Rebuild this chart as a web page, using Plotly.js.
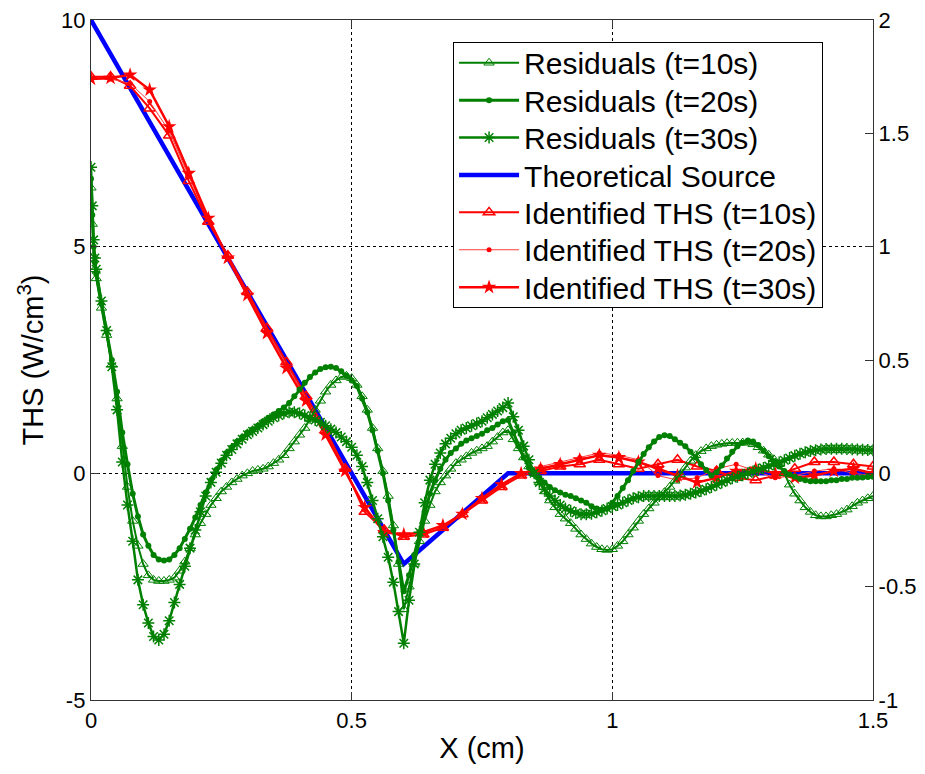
<!DOCTYPE html>
<html>
<head>
<meta charset="utf-8">
<script src="https://cdn.plot.ly/plotly-3.0.1.min.js"></script>
<style>html,body{margin:0;padding:0;background:#fff;}#chart{width:925px;height:774px;}</style>
</head>
<body>
<div id="chart"></div>
<script>
// Residual sample positions (cm)
var resX = [0,0.0025,0.005,0.0075,0.01,0.02,0.03,0.04,0.05,0.06,0.07,0.08,0.09,0.10,
0.11,0.12,0.13,0.14,0.15,0.16,0.17,0.18,0.19,0.20,0.21,0.22,0.23,0.24,0.25,0.26,0.27,0.28,0.29,0.30,
0.31,0.32,0.33,0.34,0.35,0.36,0.37,0.38,0.39,0.40,0.41,0.42,0.43,0.44,0.45,0.46,0.47,0.48,0.49,0.50,
0.51,0.52,0.53,0.54,0.55,0.56,0.57,0.58,0.59,0.60,0.61,0.62,0.63,0.64,0.65,0.66,0.67,0.68,0.69,0.70,
0.71,0.72,0.73,0.74,0.75,0.76,0.77,0.78,0.79,0.80,0.81,0.82,0.83,0.84,0.85,0.86,0.87,0.88,0.89,0.90,
0.91,0.92,0.93,0.94,0.95,0.96,0.97,0.98,0.99,1.00,1.01,1.02,1.03,1.04,1.05,1.06,1.07,1.08,1.09,1.10,
1.11,1.12,1.13,1.14,1.15,1.16,1.17,1.18,1.19,1.20,1.21,1.22,1.23,1.24,1.25,1.26,1.27,1.28,1.29,1.30,
1.31,1.32,1.33,1.34,1.35,1.36,1.37,1.38,1.39,1.40,1.41,1.42,1.43,1.44,1.45,1.46,1.47,1.48,1.49,1.50];

// Residuals t=10s (right axis)
var res10 = [1.26,1.10,0.96,0.90,0.86,0.73,0.61,0.48,0.33,0.12,-0.06,-0.21,-0.32,-0.40,
-0.45,-0.47,-0.475,-0.475,-0.47,-0.46,-0.43,-0.39,-0.33,-0.27,-0.22,-0.18,-0.14,-0.11,-0.08,-0.06,-0.04,-0.025,-0.01,0.0,
0.01,0.015,0.02,0.03,0.045,0.06,0.08,0.11,0.14,0.17,0.20,0.24,0.28,0.32,0.36,0.39,0.41,0.425,0.43,0.42,
0.39,0.34,0.28,0.20,0.11,0.01,-0.10,-0.23,-0.40,-0.60,-0.50,-0.40,-0.30,-0.21,-0.14,-0.08,-0.04,-0.01,0.02,0.045,
0.06,0.075,0.09,0.10,0.11,0.12,0.14,0.16,0.18,0.19,0.15,0.11,0.07,0.03,0.0,-0.04,-0.08,-0.12,-0.15,-0.18,
-0.20,-0.22,-0.245,-0.27,-0.29,-0.31,-0.325,-0.335,-0.338,-0.335,-0.32,-0.30,-0.27,-0.24,-0.21,-0.18,-0.155,-0.13,-0.105,-0.083,
-0.06,-0.033,-0.005,0.025,0.055,0.08,0.098,0.11,0.12,0.126,0.13,0.133,0.134,0.135,0.136,0.135,0.128,0.115,0.10,0.082,
0.062,0.04,0.0,-0.05,-0.09,-0.12,-0.15,-0.17,-0.185,-0.19,-0.19,-0.185,-0.18,-0.17,-0.16,-0.145,-0.13,-0.12,-0.11,-0.10];

// Residuals t=20s (right axis)
var res20 = [1.30,1.14,1.00,0.93,0.88,0.75,0.63,0.50,0.36,0.18,0.04,-0.09,-0.19,-0.27,
-0.32,-0.36,-0.38,-0.385,-0.38,-0.36,-0.33,-0.29,-0.245,-0.195,-0.14,-0.085,-0.03,0.015,0.055,0.09,0.115,0.14,0.16,0.18,
0.195,0.21,0.23,0.245,0.26,0.275,0.29,0.31,0.34,0.37,0.40,0.425,0.445,0.46,0.468,0.47,0.465,0.45,0.43,0.41,
0.385,0.33,0.27,0.19,0.10,0.0,-0.12,-0.25,-0.39,-0.52,-0.45,-0.36,-0.26,-0.17,-0.09,-0.03,0.02,0.06,0.09,0.11,
0.13,0.145,0.155,0.165,0.175,0.19,0.20,0.215,0.23,0.235,0.18,0.12,0.07,0.025,-0.005,-0.02,-0.04,-0.06,-0.075,-0.085,
-0.095,-0.10,-0.11,-0.12,-0.13,-0.145,-0.155,-0.16,-0.155,-0.13,-0.10,-0.065,-0.03,0.01,0.05,0.085,0.115,0.14,0.16,0.168,
0.165,0.15,0.135,0.12,0.095,0.07,0.04,0.015,-0.01,0.005,0.035,0.065,0.095,0.12,0.135,0.145,0.14,0.125,0.10,0.075,
0.05,0.03,0.01,-0.005,-0.015,-0.025,-0.03,-0.035,-0.035,-0.035,-0.035,-0.03,-0.03,-0.025,-0.025,-0.02,-0.02,-0.018,-0.016,-0.015];

// Residuals t=30s (right axis)
var res30 = [1.35,1.18,1.03,0.95,0.90,0.76,0.63,0.47,0.28,0.05,-0.14,-0.30,-0.47,-0.58,
-0.66,-0.72,-0.735,-0.71,-0.65,-0.57,-0.49,-0.41,-0.33,-0.25,-0.17,-0.10,-0.04,0.005,0.045,0.08,0.105,0.13,0.15,0.17,
0.185,0.20,0.215,0.23,0.245,0.255,0.265,0.27,0.27,0.265,0.255,0.245,0.235,0.225,0.21,0.195,0.18,0.16,0.14,0.115,
0.08,0.03,-0.04,-0.12,-0.20,-0.28,-0.37,-0.48,-0.61,-0.75,-0.56,-0.40,-0.26,-0.13,-0.03,0.04,0.09,0.13,0.155,0.175,
0.19,0.20,0.21,0.22,0.23,0.245,0.26,0.275,0.29,0.31,0.25,0.19,0.12,0.06,0.0,-0.04,-0.07,-0.10,-0.12,-0.14,
-0.155,-0.165,-0.175,-0.18,-0.18,-0.178,-0.172,-0.165,-0.155,-0.147,-0.14,-0.13,-0.12,-0.11,-0.105,-0.10,-0.10,-0.10,-0.10,-0.10,
-0.10,-0.10,-0.098,-0.095,-0.09,-0.085,-0.078,-0.07,-0.06,-0.05,-0.04,-0.03,-0.022,-0.015,-0.008,0.0,0.008,0.016,0.024,0.032,
0.04,0.048,0.058,0.068,0.078,0.086,0.093,0.098,0.102,0.105,0.107,0.108,0.108,0.108,0.107,0.106,0.105,0.104,0.103,0.102];

// Theoretical source (left axis)
var theoX = [0, 0.6, 0.8, 1.5];
var theoY = [10, -2, 0, 0];

// Identified THS sample positions and values (left axis)
var idX = [0,0.0375,0.075,0.1125,0.15,0.1875,0.225,0.2625,0.3,0.3375,0.375,0.4125,0.45,0.4875,0.525,0.5625,0.6,0.6375,0.675,0.7125,
0.75,0.7875,0.825,0.8625,0.9,0.9375,0.975,1.0125,1.05,1.0875,1.125,1.1625,1.2,1.2375,1.275,1.3125,1.35,1.3875,1.425,1.4625,1.5];
var id10 = [8.75,8.75,8.55,8.05,7.45,6.45,5.55,4.8,4.0,3.2,2.45,1.7,0.95,0.1,-0.85,-1.25,-1.4,-1.35,-1.2,-0.9,
-0.6,-0.3,-0.05,0.05,0.15,0.2,0.3,0.2,0.1,0.2,0.3,0.15,0.05,-0.1,-0.15,-0.05,0.1,0.25,0.25,0.2,0.15];
var id20 = [8.7,8.7,8.6,8.2,7.55,6.55,5.6,4.75,3.95,3.15,2.4,1.65,0.9,0.1,-0.8,-1.3,-1.35,-1.3,-1.15,-0.88,
-0.55,-0.27,0.0,0.15,0.25,0.35,0.45,0.4,0.3,-0.05,-0.15,-0.1,0.1,0.2,0.05,-0.1,-0.05,0.05,0.1,0.0,-0.05];
var id30 = [8.7,8.72,8.79,8.46,7.65,6.62,5.63,4.75,3.93,3.09,2.32,1.6,0.85,0.05,-0.75,-1.3,-1.35,-1.3,-1.15,-0.9,
-0.55,-0.25,0.0,0.1,0.2,0.3,0.4,0.35,0.25,0.1,-0.05,-0.2,-0.1,0.05,0.1,0.0,-0.1,-0.05,0.05,0.1,0.0];

var seriesNames = ['Residuals (t=10s)','Residuals (t=20s)','Residuals (t=30s)','Theoretical Source',
  'Identified THS (t=10s)','Identified THS (t=20s)','Identified THS (t=30s)'];

var GREEN = 'rgb(0,128,0)';
var RED = 'rgb(255,0,0)';
var FONT = 'Arial, "Liberation Sans", sans-serif';

var traces = [
  {x: resX, y: res10, name: seriesNames[0], yaxis: 'y2', mode: 'lines+markers',
   line: {color: GREEN, width: 2},
   marker: {symbol: 'triangle-up-open', size: 9, color: GREEN, line: {color: GREEN, width: 1}}},
  {x: resX, y: res20, name: seriesNames[1], yaxis: 'y2', mode: 'lines+markers',
   line: {color: GREEN, width: 3},
   marker: {symbol: 'circle', size: 6, color: GREEN}},
  {x: resX, y: res30, name: seriesNames[2], yaxis: 'y2', mode: 'lines+markers',
   line: {color: GREEN, width: 2.5},
   marker: {symbol: 'asterisk-open', size: 10, color: GREEN, line: {color: GREEN, width: 1.5}}},
  {x: theoX, y: theoY, name: seriesNames[3], yaxis: 'y', mode: 'lines',
   line: {color: 'rgb(0,0,255)', width: 4.5}},
  {x: idX, y: id10, name: seriesNames[4], yaxis: 'y', mode: 'lines+markers',
   line: {color: RED, width: 2},
   marker: {symbol: 'triangle-up-open', size: 10, color: RED, line: {color: RED, width: 1.5}}},
  {x: idX, y: id20, name: seriesNames[5], yaxis: 'y', mode: 'lines+markers',
   line: {color: 'rgb(255,60,60)', width: 1},
   marker: {symbol: 'circle', size: 5, color: RED}},
  {x: idX, y: id30, name: seriesNames[6], yaxis: 'y', mode: 'lines+markers',
   line: {color: RED, width: 2.5},
   marker: {symbol: 'star', size: 11, color: RED}}
];

var axisCommon = {
  showline: true, linecolor: '#333', linewidth: 1.2,
  ticks: 'inside', ticklen: 8, tickcolor: '#333', tickwidth: 1,
  tickfont: {family: FONT, size: 22, color: '#000'},
  zeroline: false
};

var layout = {
  width: 925, height: 774,
  margin: {l: 91, r: 52, t: 20, b: 74, pad: 0},
  paper_bgcolor: '#fff', plot_bgcolor: '#fff',
  font: {family: FONT, color: '#000'},
  showlegend: true,
  legend: {x: 0.463, y: 0.968, xanchor: 'left', yanchor: 'top',
    bgcolor: '#fff', bordercolor: '#000', borderwidth: 1,
    font: {family: FONT, size: 30, color: '#000'}, itemwidth: 60, tracegroupgap: 0},
  xaxis: Object.assign({}, axisCommon, {
    range: [0, 1.5], tickvals: [0, 0.5, 1, 1.5], ticktext: ['0', '0.5', '1', '1.5'],
    mirror: 'ticks', showgrid: true, gridcolor: '#000', gridwidth: 1, griddash: '3px,3px',
    title: {text: 'X (cm)', font: {family: FONT, size: 29, color: '#000'}, standoff: 6}
  }),
  yaxis: Object.assign({}, axisCommon, {
    range: [-5, 10], tickvals: [-5, 0, 5, 10], ticktext: ['-5', '0', '5', '10'],
    showgrid: true, gridcolor: '#000', gridwidth: 1, griddash: '3px,3px',
    title: {text: 'THS (W/cm<sup>3</sup>)', font: {family: FONT, size: 29, color: '#000'}, standoff: 8}
  }),
  yaxis2: Object.assign({}, axisCommon, {
    overlaying: 'y', side: 'right', range: [-1, 2],
    tickvals: [-1, -0.5, 0, 0.5, 1, 1.5, 2], ticktext: ['-1', '-0.5', '0', '0.5', '1', '1.5', '2'],
    showgrid: false
  })
};

// Tighten legend row spacing to match the reference's compact legend
function tightenLegend(gd) {
  var items = gd.querySelectorAll('.legend .traces');
  if (items.length < 2) return;
  var parse = function (el) {
    var m = /translate\(\s*([-\d.e]+)[\s,]+([-\d.e]+)\s*\)/.exec(el.getAttribute('transform') || '');
    return m ? [parseFloat(m[1]), parseFloat(m[2])] : null;
  };
  var p0 = parse(items[0]), p1 = parse(items[1]);
  if (!p0 || !p1) return;
  var oldStep = p1[1] - p0[1];
  var step = 37.4, lift = 6;
  if (oldStep <= step) return;
  for (var i = 0; i < items.length; i++) {
    var p = parse(items[i]);
    if (p) items[i].setAttribute('transform', 'translate(' + p[0] + ',' + (p0[1] - lift + i * step) + ')');
  }
  var bg = gd.querySelector('.legend .bg');
  if (bg) {
    var h = parseFloat(bg.getAttribute('height'));
    bg.setAttribute('height', h - 2 * lift - (items.length - 1) * (oldStep - step));
  }
}

Plotly.newPlot('chart', traces, layout, {displayModeBar: false, staticPlot: true}).then(tightenLegend);
</script>
</body>
</html>
